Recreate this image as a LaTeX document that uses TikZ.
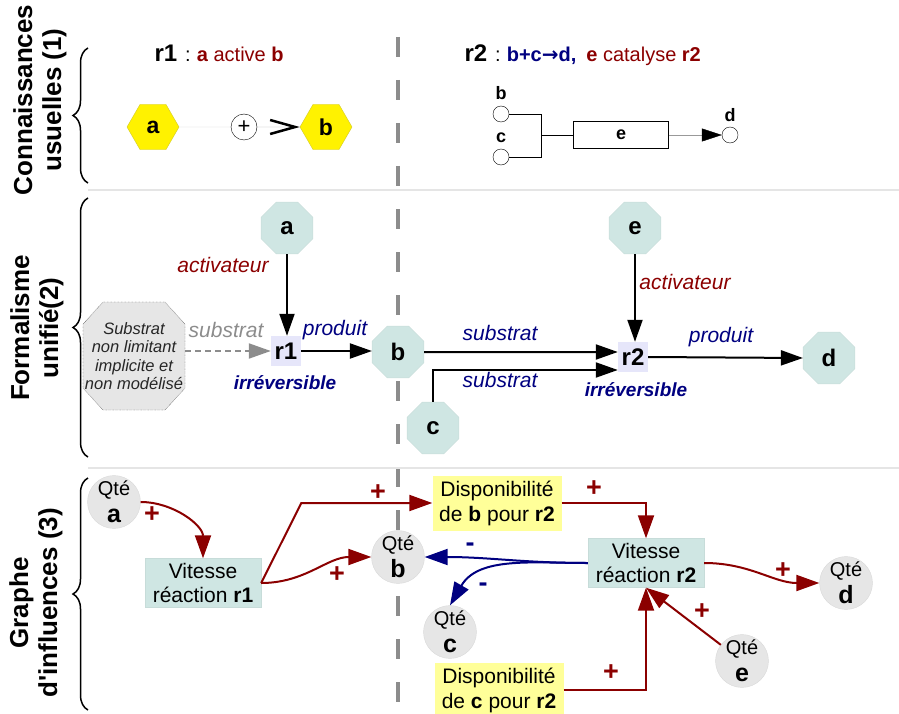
\documentclass[tikz,border=0pt]{standalone}
\usepackage{fontspec}
\setmainfont{Liberation Sans}
\newfontfamily\symb{DejaVu Sans}
\usepackage{tikz}
\usetikzlibrary{positioning}
\usetikzlibrary{shapes.geometric}
\usetikzlibrary{arrows.meta}
\usetikzlibrary{decorations.pathreplacing}
\usepackage{xcolor}
\definecolor{rouge}{RGB}{139,0,0}
\definecolor{marine}{RGB}{0,0,128}
\definecolor{vert}{RGB}{207,230,227}
\definecolor{jaune}{RGB}{255,255,153}
\definecolor{lavande}{RGB}{230,230,250}
\definecolor{gris}{RGB}{230,230,230}
\newcommand\fs[2]{\fontsize{#1}{#2}\selectfont}

\begin{document}
\begin{tikzpicture}[x=1pt, y=-1pt,
    titre/.style={rotate=90, align=center, font=\fs{26}{29}\bfseries},
    accolade/.style={decorate, decoration={brace, amplitude=15pt}, line width=1.5pt},
    sep/.style={black!10, line width=1.5pt},
    hexa/.style={regular polygon, regular polygon sides=6, minimum size=52pt, inner sep=0pt, fill=yellow, draw=yellow!80!black, font=\fs{23}{23}\bfseries},
    petit/.style={circle, draw, fill=white, minimum size=16pt, inner sep=0pt},
    lettre/.style={inner sep=0pt, font=\fs{18}{18}\bfseries},
    octo/.style={regular polygon, regular polygon sides=8, minimum size=56pt, inner sep=0pt, fill=vert, draw=vert!90!gray, font=\fs{24}{24}\bfseries},
    reac/.style={rectangle, fill=lavande, minimum size=30pt, inner sep=0pt, font=\fs{24}{24}\bfseries},
    fleche/.style={line width=2pt, -{Triangle[length=22pt,width=15pt]}},
    etiq/.style={font=\fs{21}{21}\itshape},
    irrev/.style={text=marine, font=\fs{19}{19}\bfseries\itshape},
    qte/.style={circle, fill=gris, draw=black!15, minimum size=52pt, inner sep=0pt, align=center, font=\fs{20}{27}},
    vit/.style={rectangle, fill=vert, draw=vert!90!gray, minimum width=116pt, minimum height=49pt, align=center, font=\fs{21}{24}},
    dispo/.style={rectangle, fill=jaune, minimum width=129pt, minimum height=55pt, align=center, font=\fs{21}{25}},
    plusfl/.style={rouge, line width=2pt, -{Triangle[length=23pt,width=16pt]}},
    moinsfl/.style={marine, line width=2pt, -{Triangle[length=23pt,width=16pt]}},
    signe/.style={font=\fs{27}{27}\bfseries}]
\useasboundingbox (0,0) rectangle (899,714);

% separateurs et titres des parties
\draw[black!45, line width=4pt, dash pattern=on 20pt off 23pt] (398,37) -- (398,714);
\draw[sep] (88,190) -- (899,190);
\draw[sep] (88,468) -- (899,468);
\node[titre] (t1) at (40,100) {Connaissances\\usuelles (1)};
\node[titre] (t2) at (37,328) {Formalisme\\unifié(2)};
\node[titre] (t3) at (36,603) {Graphe\\d\textquotesingle influences (3)};
\draw[accolade] (88,183) -- (88,48);
\draw[accolade] (88,457) -- (88,198);
\draw[accolade] (88,710) -- (88,478);

% (1) connaissances usuelles
\node[anchor=base west, font=\fs{20}{20}] (titre1) at (151,62)
    {{\fs{24}{24}\bfseries r1}\hspace{8pt}:\hspace{6pt}{\color{rouge}\textbf{a} active \textbf{b}}};
\node[anchor=base west, font=\fs{20}{20}] (titre2) at (461,62)
    {{\fs{24}{24}\bfseries r2}\hspace{8pt}:\hspace{6pt}{\color{marine}\bfseries b+c{\symb\bfseries →}d,}\hspace{10pt}{\color{rouge}\textbf{e} catalyse \textbf{r2}}};
\node[hexa] (ha) at (153,127) {a};
\node[circle, draw, minimum size=26pt, inner sep=0pt, font=\fs{22}{22}] (plus) at (244,127) {+};
\node[hexa] (hb) at (326,127) {b};
\draw[black!20] (ha.east) -- (plus.west);
\draw[black!30, -{Straight Barb[length=25pt,width=14pt,line width=2.5pt,color=black]}] (plus.east) -- (hb.west);

\node[petit] (sb) at (501,114) {};
\node[lettre, above=6pt of sb] (lb) {b};
\node[petit] (sc) at (501,157) {};
\node[lettre, above=6pt of sc] (lc) {c};
\node[rectangle, draw, minimum width=95pt, minimum height=27pt, font=\fs{18}{18}\bfseries] (erect) at (621,135) {e};
\node[petit] (sd) at (730,135) {};
\node[lettre, above=5pt of sd] (ld) {d};
\draw (sb.east) -| ([xshift=-32pt]erect.west) |- (sc.east);
\draw ([xshift=-32pt]erect.west) -- (erect.west);
\draw[black!40, -{Triangle[length=20pt,width=13pt,color=black]}] (erect.east) -- (sd.west);

% (2) formalisme unifie
\draw[densely dotted, fill=gris] (103,302) -- (165,302) -- (185,324) -- (185,388) -- (165,410)
    -- (103,410) -- (83,388) -- (83,324) -- cycle;
\node[minimum width=102pt, minimum height=108pt, inner sep=0pt, align=center, text=black!85,
    font=\fs{16.5}{18.5}\itshape] (implicite) at (134,356) {Substrat\\non limitant\\implicite et\\non modélisé};
\node[octo] (a) at (287,228) {a};
\node[reac] (r1) at (286,351) {r1};
\node[octo] (b) at (398,352) {b};
\node[octo] (c) at (433,428) {c};
\node[octo] (e) at (635,228) {e};
\node[reac] (r2) at (633,357) {r2};
\node[octo] (d) at (829,358) {d};

\draw[fleche] (a.south) -- (a.south |- r1.north);
\draw[fleche, black!45, dashed, dash pattern=on 6pt off 4pt] (implicite.east |- r1.west) -- (r1.west);
\draw[fleche] (r1.east) -- (r1.east -| b.west);
\draw[fleche] (b.east) -- ([yshift=5pt]r2.west);
\draw[fleche] (c.north) |- ([yshift=-13pt]r2.west);
\draw[fleche] (e.south) -- (e.south |- r2.north);
\draw[fleche] (r2.east) -- (d.west);

\node[etiq, text=rouge] (act1) at (223,265) {activateur};
\node[etiq, text=black!45] (sub0) at (226,330) {substrat};
\node[etiq, text=marine] (prod1) at (335,330) {produit};
\node[irrev] (irr1) at (285,383) {irréversible};
\node[etiq, text=marine] (sub1) at (500,333) {substrat};
\node[etiq, text=marine] (sub2) at (500,380) {substrat};
\node[etiq, text=rouge] (act2) at (685,282) {activateur};
\node[etiq, text=marine] (prod2) at (721,337) {produit};
\node[irrev] (irr2) at (636,390) {irréversible};

% (3) graphe d'influences
\node[qte] (qa) at (114,502) {Qté\\{\fs{25}{27}\bfseries a}};
\node[vit] (vr1) at (203,583) {Vitesse\\réaction \textbf{r1}};
\node[dispo] (dispb) at (497,503) {Disponibilité\\de \textbf{b} pour \textbf{r2}};
\node[qte] (qb) at (398,557) {Qté\\{\fs{25}{27}\bfseries b}};
\node[vit] (vr2) at (646,563) {Vitesse\\réaction \textbf{r2}};
\node[qte] (qc) at (450,632) {Qté\\{\fs{25}{27}\bfseries c}};
\node[dispo] (dispc) at (499,690) {Disponibilité\\de \textbf{c} pour \textbf{r2}};
\node[qte] (qe) at (742,661) {Qté\\{\fs{25}{27}\bfseries e}};
\node[qte] (qd) at (846,583) {Qté\\{\fs{25}{27}\bfseries d}};

\draw[plusfl] (qa.east) to[out=0, in=90] (vr1.north);
\draw[plusfl] (vr1.east) -- ([xshift=-131pt]dispb.west) -- (dispb.west);
\draw[plusfl] (vr1.east) to[out=0, in=180] (qb.west);
\draw[plusfl] (dispb.east) -| (vr2.north);
\draw[plusfl] (dispc.east) -| (vr2.south);
\draw[plusfl] (qe) -- (vr2.south);
\draw[plusfl] (vr2.east) to[out=0, in=180] (qd.west);
\draw[moinsfl] (vr2.west) to[out=180, in=0] (qb.east);
\draw[moinsfl] (vr2.west) to[out=180, in=60] (qc.north);

\node[signe, text=rouge] (s1) at (152,515) {+};
\node[signe, text=rouge] (s2) at (378,493) {+};
\node[signe, text=rouge] (s3) at (337,575) {+};
\node[signe, text=rouge] (s4) at (594,489) {+};
\node[signe, text=rouge] (s5) at (611,673) {+};
\node[signe, text=rouge] (s6) at (702,612) {+};
\node[signe, text=rouge] (s7) at (783,571) {+};
\node[signe, text=marine] (m1) at (470,547) {-};
\node[signe, text=marine] (m2) at (483,587) {-};
\end{tikzpicture}
\end{document}
